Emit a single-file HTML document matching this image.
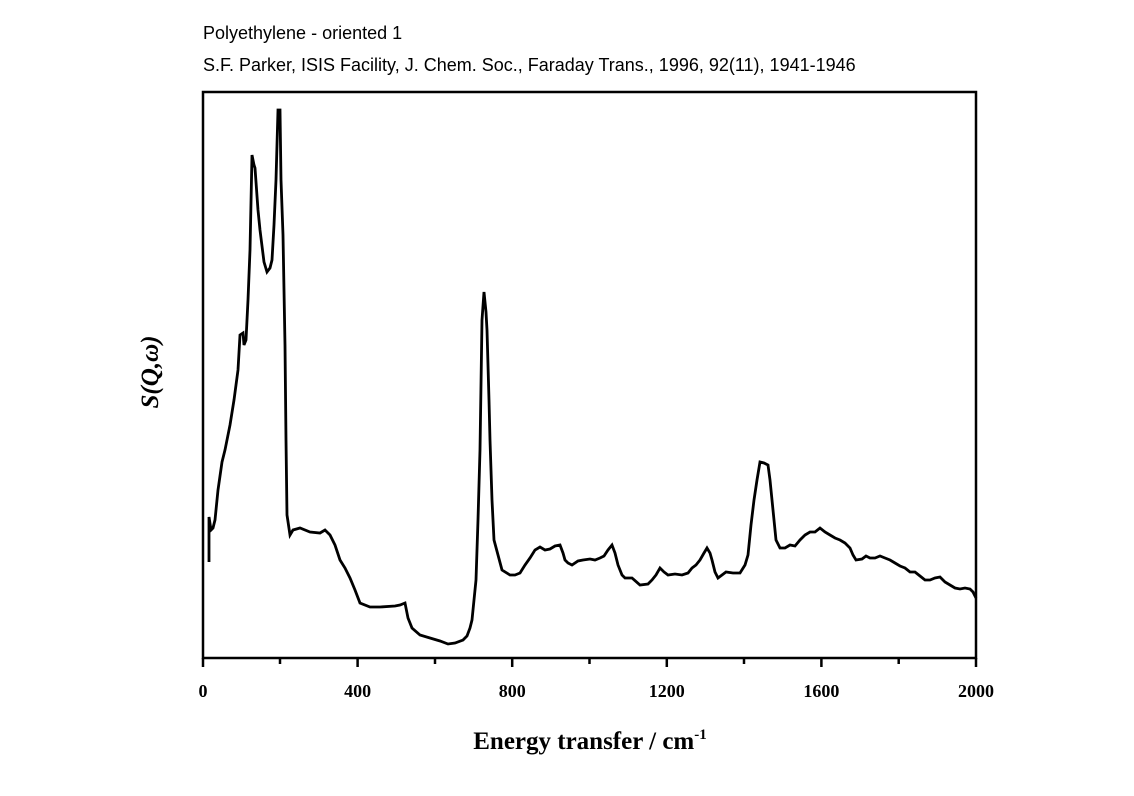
<!DOCTYPE html>
<html><head><meta charset="utf-8"><style>
body{margin:0;background:#fff;}
</style></head><body>
<svg width="1134" height="791" xmlns="http://www.w3.org/2000/svg">
<rect width="1134" height="791" fill="#fff"/>
<text x="203" y="39" font-family="Liberation Sans, sans-serif" font-size="18">Polyethylene - oriented 1</text>
<text x="203" y="71" font-family="Liberation Sans, sans-serif" font-size="18">S.F. Parker, ISIS Facility, J. Chem. Soc., Faraday Trans., 1996, 92(11), 1941-1946</text>
<rect x="203" y="92" width="773" height="566" fill="none" stroke="#000" stroke-width="2.5"/>
<g stroke="#000" stroke-width="2.5">
<line x1="203" y1="658" x2="203" y2="667"/><line x1="280" y1="658" x2="280" y2="664"/>
<line x1="357.6" y1="658" x2="357.6" y2="667"/><line x1="435" y1="658" x2="435" y2="664"/>
<line x1="512.2" y1="658" x2="512.2" y2="667"/><line x1="589.5" y1="658" x2="589.5" y2="664"/>
<line x1="666.8" y1="658" x2="666.8" y2="667"/><line x1="744" y1="658" x2="744" y2="664"/>
<line x1="821.4" y1="658" x2="821.4" y2="667"/><line x1="898.7" y1="658" x2="898.7" y2="664"/>
<line x1="976" y1="658" x2="976" y2="667"/>
</g>
<g font-family="Liberation Serif, serif" font-weight="bold" font-size="18" text-anchor="middle">
<text x="203" y="697">0</text><text x="357.6" y="697">400</text><text x="512.2" y="697">800</text>
<text x="666.8" y="697">1200</text><text x="821.4" y="697">1600</text><text x="976" y="697">2000</text>
</g>
<text x="590" y="749" font-family="Liberation Serif, serif" font-weight="bold" font-size="25" text-anchor="middle">Energy transfer / cm<tspan font-size="15" dy="-10">-1</tspan></text>
<text transform="translate(158,372) rotate(-90)" font-family="Liberation Serif, serif" font-weight="bold" font-style="italic" font-size="25" text-anchor="middle">S(Q,ω)</text>
<polyline fill="none" stroke="#000" stroke-width="2.8" stroke-linejoin="miter" points="
209,562 209,517 211,530 213,528 215,520 218,490 222,462 225,450 230,425 234,400 238,370 240,335 243,333 244,345 246,340 248,300 250,250 252,155 254,165 255,168 258,210 260,230 264,262 267,272 270,268 272,260 274,225 276,180 278,110 280,110 281,180 283,235 285,345 286,440 287,515 290,535 293,530 300,528 310,532 320,533 325,530 330,535 335,545 340,560 345,568 350,578 355,590 360,603 370,607 380,607 395,606 400,605 405,603 408,618 412,628 420,635 430,638 440,641 448,644 455,643 463,640 467,636 470,628 472,620 474,600 476,580 478,520 480,450 482,320 484,292 486,312 487,330 489,400 490,440 492,500 494,540 498,555 502,570 510,575 515,575 520,573 525,565 530,558 535,550 540,547 545,550 550,549 555,546 560,545 563,553 565,560 568,563 572,565 578,561 583,560 590,559 595,560 600,558 604,556 608,550 612,545 615,553 618,565 622,575 625,578 632,578 640,585 648,584 652,580 656,575 660,568 664,572 668,575 675,574 682,575 688,573 692,568 696,565 700,560 704,553 707,548 710,553 712,560 715,572 718,578 722,575 726,572 733,573 740,573 745,565 748,555 751,525 754,500 757,480 760,462 764,463 768,465 770,480 772,500 774,520 776,540 780,548 785,548 790,545 795,546 800,540 805,535 810,532 815,532 820,528 825,532 830,535 835,538 840,540 845,543 850,548 853,555 856,560 862,559 866,556 870,558 875,558 880,556 885,558 890,560 895,563 900,566 905,568 910,572 915,572 920,576 925,580 930,580 935,578 940,577 945,582 950,585 955,588 960,589 965,588 970,589 973,592 976,598"/>
</svg>
</body></html>
